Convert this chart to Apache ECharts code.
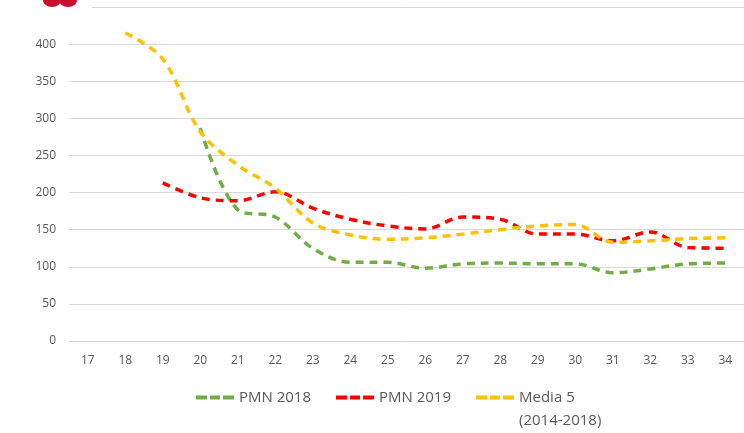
<!DOCTYPE html>
<html>
<head>
<meta charset="utf-8">
<script src="https://cdn.jsdelivr.net/npm/echarts@6/dist/echarts.min.js"></script>
<style>
  html, body { margin: 0; padding: 0; background: #fff; }
  #chart { width: 744px; height: 433px; }
</style>
</head>
<body>
<div id="chart"></div>
<script>
// Weeks on the x axis
const weeks = ['17','18','19','20','21','22','23','24','25','26','27','28','29','30','31','32','33','34'];

// Weekly values per series (null = no data for that week)
const pmn2018 = [null, null, null, 287, 177, 167, 125, 106, 106, 98, 104, 105, 104, 104, 92, 97, 104, 105];
const pmn2019 = [null, null, 213, 193, 189, 201, 179, 164, 155, 151, 167, 164, 144, 144, 135, 147, 126, 125];
const media5  = [null, 415, 380, 282, 237, 206, 159, 143, 137, 139, 144, 150, 155, 157, 133, 135, 138, 139];

const seriesNames = ['PMN 2018', 'PMN 2019', 'Media 5'];
const seriesColors = ['#70AD47', '#FF0000', '#FFC000'];

const dashIcon = 'path://M0,0h11v4h-11z M14,0h10v4h-10z M27,0h11v4h-11z';

function dashedLine(name, data, color) {
  return {
    name: name,
    type: 'line',
    data: data,
    smooth: 0.35,
    showSymbol: false,
    connectNulls: false,
    lineStyle: { color: color, width: 3.5, type: [8, 6], cap: 'butt' },
    itemStyle: { color: color },
    emphasis: { disabled: true }
  };
}

const chart = echarts.init(document.getElementById('chart'), null, { renderer: 'canvas' });
chart.setOption({
  animation: false,
  backgroundColor: '#ffffff',
  textStyle: { fontFamily: 'Open Sans' },
  grid: { left: 69, right: -9, top: 7, bottom: 92, containLabel: false },
  xAxis: {
    type: 'category',
    data: weeks,
    boundaryGap: true,
    axisLine: { show: true, lineStyle: { color: '#d9d9d9', width: 1 } },
    axisTick: { show: false },
    axisLabel: { color: '#595959', fontSize: 12, margin: 14, fontFamily: 'Open Sans' }
  },
  yAxis: {
    type: 'value',
    min: 0,
    max: 450,
    interval: 50,
    axisLine: { show: false },
    axisTick: { show: false },
    splitLine: { lineStyle: { color: '#d9d9d9', width: 1 } },
    axisLabel: {
      color: '#595959', fontSize: 12, margin: 13, fontFamily: 'Open Sans',
      formatter: v => (v === 450 ? '' : String(v))
    }
  },
  legend: {
    left: 196,
    top: 363,
    padding: 0,
    itemGap: 25,
    itemWidth: 38,
    itemHeight: 4,
    icon: dashIcon,
    textStyle: { color: '#595959', fontSize: 15, fontFamily: 'Open Sans', lineHeight: 23 },
    data: [
      { name: 'PMN 2018' },
      { name: 'PMN 2019' },
      { name: 'Media 5' }
    ],
    // blank first line keeps "Media 5" level with its icon, the years sit underneath
    formatter: n => (n === 'Media 5' ? ' \nMedia 5\n(2014-2018)' : n)
  },
  graphic: [
    { type: 'rect', shape: { x: 20, y: 0, width: 72, height: 14 }, style: { fill: '#ffffff' }, z: 10 },
    { type: 'ellipse', shape: { cx: 52, cy: 0, rx: 9, ry: 7 }, style: { fill: '#c8102e' }, z: 11 },
    { type: 'ellipse', shape: { cx: 68, cy: 0, rx: 9, ry: 7 }, style: { fill: '#c8102e' }, z: 11 }
  ],
  series: [
    dashedLine(seriesNames[0], pmn2018, seriesColors[0]),
    dashedLine(seriesNames[1], pmn2019, seriesColors[1]),
    dashedLine(seriesNames[2], media5, seriesColors[2])
  ]
});
</script>
</body>
</html>
